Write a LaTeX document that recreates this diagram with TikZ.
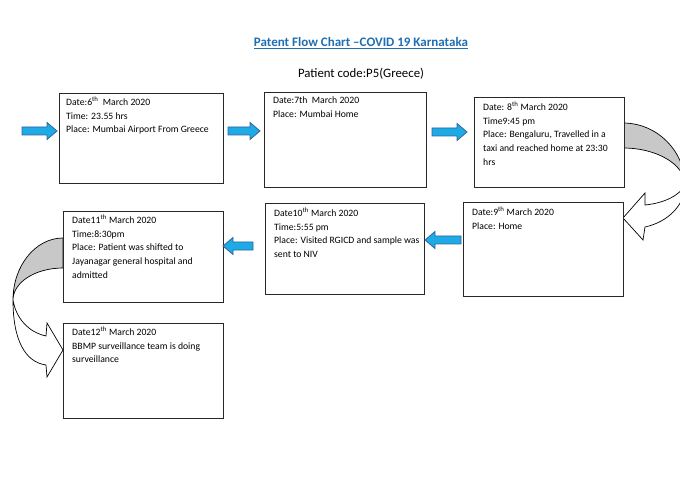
\documentclass[tikz,border=0pt]{standalone}
\usepackage{fontspec}
\setmainfont{Carlito}
\usetikzlibrary{calc}
\definecolor{arrowfill}{RGB}{30,170,228}
\definecolor{arrowline}{RGB}{50,100,160}
\definecolor{titleblue}{RGB}{30,110,180}
\definecolor{boxline}{RGB}{40,40,40}
\definecolor{bandgray}{RGB}{200,200,200}
\newcommand\bluearrowright[3]{%
  \draw[blockarr] (#1,#3-4) -- (#2-10,#3-4) -- (#2-10,#3-8.5) -- (#2,#3) -- (#2-10,#3+8.5) -- (#2-10,#3+4) -- (#1,#3+4) -- cycle;}
\newcommand\bluearrowleft[3]{%
  \draw[blockarr] (#1,#3-4) -- (#2+10,#3-4) -- (#2+10,#3-8.5) -- (#2,#3) -- (#2+10,#3+8.5) -- (#2+10,#3+4) -- (#1,#3+4) -- cycle;}
\begin{document}
\begin{tikzpicture}[x=1pt,y=-1pt,
  box/.style={draw=boxline, line width=1pt, fill=white, anchor=north west, inner sep=0pt},
  txt/.style={anchor=north west, align=left, inner sep=0pt, font=\fontsize{9.7}{13.7}\selectfont},
  blockarr/.style={fill=arrowfill, draw=arrowline, line width=0.8pt, line join=miter},
  band/.style={fill=bandgray, draw=black, line width=0.7pt},
  front/.style={fill=white, draw=black, line width=0.7pt, line join=miter}]
\useasboundingbox (0,0) rectangle (680,489);
\fill[white] (0,0) rectangle (680,489);

% titles
\node[font=\fontsize{13}{15}\selectfont\bfseries, text=titleblue, inner sep=0pt] (title) at (361,43) {\underline{Patent Flow Chart –COVID 19 Karnataka}};
\node[font=\fontsize{12.8}{15}\selectfont, inner sep=0pt] (code) at (361,74) {Patient code:P5(Greece)};

% curved arrows (drawn first, boxes on top)
\begin{scope}
\clip (0,0) rectangle (680,489);
\filldraw[band] (623,123) .. controls (657,123) and (685,151) .. (685,185)
  .. controls (685,164.6) and (657,148) .. (623,148) -- cycle;
\filldraw[front] (685,185) .. controls (685,205) and (668,222) .. (645,227)
  -- (643,240) -- (623,218) -- (645,193) -- (645,205)
  .. controls (665,203) and (680,195) .. (685,185) -- cycle;
\end{scope}
\filldraw[band] (63,238) .. controls (35.4,238) and (13,265.8) .. (13,300)
  .. controls (13,282.3) and (35.4,268) .. (63,268) -- cycle;
\filldraw[front] (13,300) .. controls (13,340) and (25,362) .. (46,365)
  -- (47,377) -- (63,350) -- (47,323) -- (46,336)
  .. controls (28,332) and (16,318) .. (13,300) -- cycle;

% boxes
\node[box, minimum width=164pt, minimum height=90pt] (b1) at (59,93) {};
\node[box, minimum width=162pt, minimum height=95pt] (b2) at (264,92) {};
\node[box, minimum width=150pt, minimum height=90pt] (b3) at (474,97) {};
\node[box, minimum width=160pt, minimum height=94pt] (b4) at (463,202) {};
\node[box, minimum width=159pt, minimum height=91pt] (b5) at (265,203) {};
\node[box, minimum width=160pt, minimum height=91pt] (b6) at (63,211) {};
\node[box, minimum width=160pt, minimum height=95pt] (b7) at (63,323) {};

% texts
\node[txt] (t1) at ($(b1.north west)+(7,4)$) {Date:6\textsuperscript{th}\ \ March 2020\\Time: 23.55 hrs\\Place: Mumbai Airport From Greece};
\node[txt] (t2) at ($(b2.north west)+(9,5)$) {Date:7th\ \ March 2020\\Place: Mumbai Home};
\node[txt] (t3) at ($(b3.north west)+(9,5)$) {Date: 8\textsuperscript{th} March 2020\\Time9:45 pm\\Place: Bengaluru, Travelled in a\\taxi and reached home at 23:30\\hrs};
\node[txt] (t4) at ($(b4.north west)+(9,5)$) {Date:9\textsuperscript{th} March 2020\\Place: Home};
\node[txt] (t5) at ($(b5.north west)+(9,5)$) {Date10\textsuperscript{th} March 2020\\Time:5:55 pm\\Place: Visited RGICD and sample was\\sent to NIV};
\node[txt] (t6) at ($(b6.north west)+(9,4)$) {Date11\textsuperscript{th} March 2020\\Time:8:30pm\\Place: Patient was shifted to\\Jayanagar general hospital and\\admitted};
\node[txt] (t7) at ($(b7.north west)+(9,4)$) {Date12\textsuperscript{th} March 2020\\BBMP surveillance team is doing\\surveillance};

% blue block arrows
\bluearrowright{22}{57}{131}
\bluearrowright{228}{260}{131}
\bluearrowright{432}{467}{132}
\bluearrowleft{461}{425}{240}
\bluearrowleft{253}{223}{246}
\end{tikzpicture}
\end{document}
